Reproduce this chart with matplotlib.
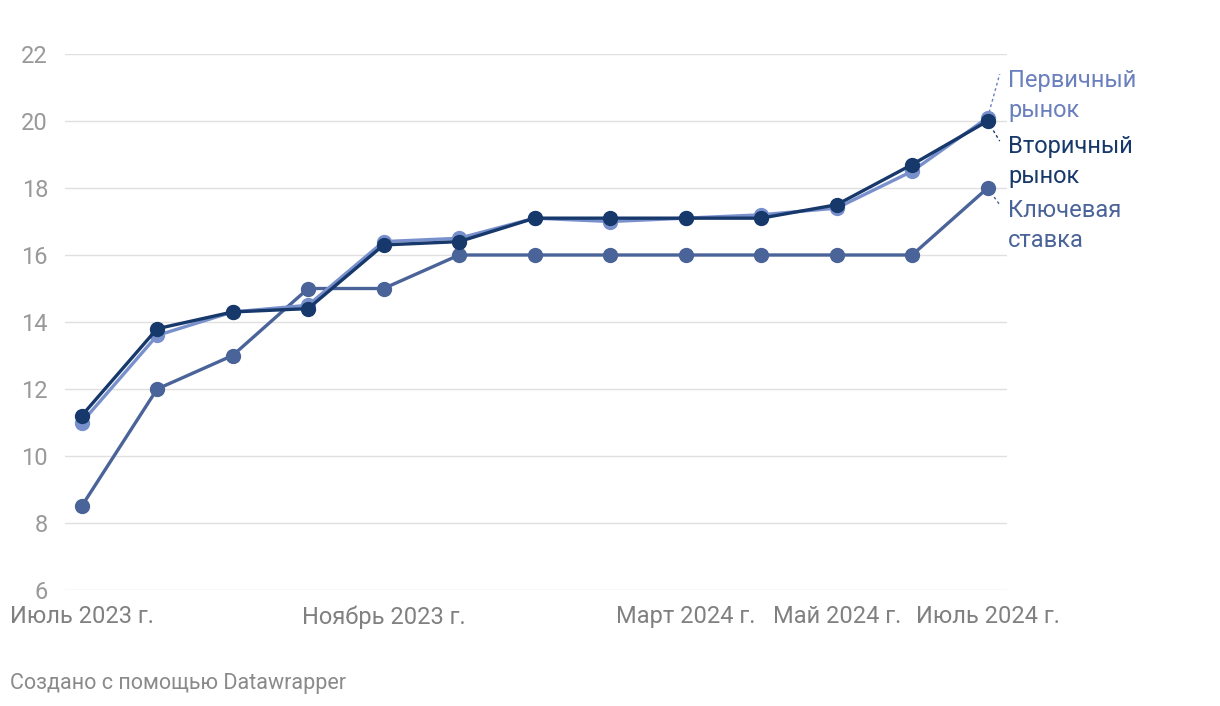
import numpy as np
import matplotlib.pyplot as plt

plt.rcParams['font.family'] = ['Roboto', 'DejaVu Sans']

months = ['Июль 2023 г.', 'Авг', 'Сен', 'Окт', 'Ноябрь 2023 г.', 'Дек', 'Янв',
          'Фев', 'Март 2024 г.', 'Апр', 'Май 2024 г.', 'Июн', 'Июль 2024 г.']
tick_idx = [0, 4, 8, 10, 12]

primary = [11.0, 13.6, 14.3, 14.5, 16.4, 16.5, 17.1, 17.0, 17.1, 17.2, 17.4, 18.5, 20.1]
secondary = [11.2, 13.8, 14.3, 14.4, 16.3, 16.4, 17.1, 17.1, 17.1, 17.1, 17.5, 18.7, 20.0]
key_rate = [8.5, 12, 13, 15, 15, 16, 16, 16, 16, 16, 16, 16, 18]

c_primary = '#7890cc'
c_secondary = '#17386b'
c_key = '#4a6398'

fig = plt.figure(figsize=(12.2, 7.06), dpi=100)
ax = fig.add_axes([0.053, 0.1643, 0.772, 0.7592])

x = np.arange(len(months))
ax.plot(x, key_rate, color=c_key, lw=2.4, marker='o', ms=10, zorder=3)
ax.plot(x, primary, color=c_primary, lw=2.4, marker='o', ms=10, zorder=4)
ax.plot(x, secondary, color=c_secondary, lw=2.4, marker='o', ms=10, zorder=5)

ax.set_xlim(-0.225, 12.25)
ax.set_ylim(6, 22)
ax.set_yticks(range(6, 23, 2))
ax.set_xticks(tick_idx)
ax.set_xticklabels([months[i] for i in tick_idx])
ax.grid(axis='y', color='#e0e0e0', lw=1)
ax.set_axisbelow(True)
for s in ax.spines.values():
    s.set_visible(False)
ax.tick_params(axis='x', length=0, labelsize=17, colors='#808080', pad=11)
ax.tick_params(axis='y', length=0, labelsize=17, colors='#999999', pad=12)

# line-end labels: (text, last value, y of label centre, y where the leader ends, colour)
last = len(months) - 1
labels = [('Первичный\nрынок', primary[-1], 20.75, 21.4, '#6a7fbd'),
          ('Вторичный\nрынок', secondary[-1], 18.78, 19.4, c_secondary),
          ('Ключевая\nставка', key_rate[-1], 16.87, 17.5, c_key)]
for text, yv, ty, ly, col in labels:
    ax.text(last + 0.27, ty, text, color=col, fontsize=17, va='center', ha='left',
            linespacing=1.38, clip_on=False)
    ax.plot([last, last + 0.16], [yv, ly], color=col, lw=1, ls=(0, (2, 2)),
            clip_on=False, zorder=2)

fig.text(0.008, 0.024, 'Создано с помощью Datawrapper', fontsize=15.5, color='#8a8a8a')

fig.savefig('out.png', dpi=100)
